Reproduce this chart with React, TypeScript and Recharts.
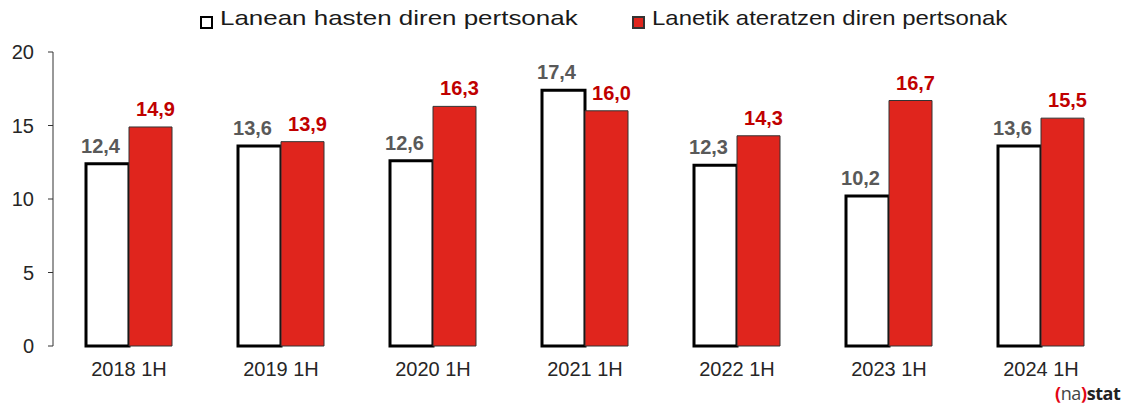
import React from "react";
import { Bar, BarChart, LabelList, XAxis, YAxis } from "recharts";

const periods = ["2018 1H", "2019 1H", "2020 1H", "2021 1H", "2022 1H", "2023 1H", "2024 1H"];
const hasten = [12.4, 13.6, 12.6, 17.4, 12.3, 10.2, 13.6];
const ateratzen = [14.9, 13.9, 16.3, 16.0, 14.3, 16.7, 15.5];
const yTicks = [0, 5, 10, 15, 20];

const data = periods.map((name, i) => ({
  name,
  hasten: hasten[i],
  ateratzen: ateratzen[i],
}));

const RED = "#E0251D";
const FONT = "'Liberation Sans', Arial, sans-serif";

const fmt = (v: any) => Number(v).toFixed(1).replace(".", ",");

function LegendItem({
  x,
  fill,
  border,
  label,
  stretch,
}: {
  x: number;
  fill: string;
  border: string;
  label: string;
  stretch: number;
}) {
  return (
    <div style={{ position: "absolute", left: x, top: 6, height: 28, whiteSpace: "nowrap" }}>
      <span
        style={{
          position: "absolute",
          left: 0,
          top: 10,
          width: 9,
          height: 9,
          background: fill,
          border: `2.5px solid ${border}`,
        }}
      />
      <span
        style={{
          position: "absolute",
          left: 20,
          top: 0,
          fontFamily: FONT,
          fontSize: 21,
          color: "#1a1a1a",
          transform: `scaleX(${stretch})`,
          transformOrigin: "left center",
        }}
      >
        {label}
      </span>
    </div>
  );
}

export default function App() {
  return (
    <div style={{ position: "absolute", left: 0, top: 0, width: 1123, height: 405, background: "#fff" }}>
      <BarChart
        width={1123}
        height={405}
        data={data}
        barGap={0}
        barSize={43}
        margin={{ top: 52, right: 6, left: 13, bottom: 29 }}
      >
        <XAxis
          dataKey="name"
          axisLine={false}
          tickLine={false}
          tickSize={6}
          tickMargin={10}
          height={30}
          interval={0}
          tick={{ fill: "#262626", fontSize: 20, fontFamily: FONT }}
        />
        <YAxis
          domain={[0, 20]}
          ticks={yTicks}
          width={40}
          axisLine={{ stroke: "#333", strokeWidth: 1 }}
          tickLine={{ stroke: "#333" }}
          tickSize={5}
          tickMargin={14}
          tick={{ fill: "#262626", fontSize: 20, fontFamily: FONT }}
        />
        <Bar
          dataKey="hasten"
          fill="#fff"
          stroke="#000"
          strokeWidth={3}
          isAnimationActive={false}
        >
          <LabelList
            dataKey="hasten"
            position="top"
            offset={11}
            formatter={fmt}
            style={{ fill: "#595959", fontSize: 20, fontWeight: 700, fontFamily: FONT }}
            dx={-7}
          />
        </Bar>
        <Bar
          dataKey="ateratzen"
          fill={RED}
          stroke="#333"
          strokeWidth={1}
          isAnimationActive={false}
        >
          <LabelList
            dataKey="ateratzen"
            position="top"
            offset={11}
            formatter={fmt}
            style={{ fill: "#C00000", fontSize: 20, fontWeight: 700, fontFamily: FONT }}
            dx={5}
          />
        </Bar>
      </BarChart>
      <LegendItem x={200} fill="#fff" border="#000" label="Lanean hasten diren pertsonak" stretch={1.235} />
      <LegendItem x={632} fill={RED} border="#333" label="Lanetik ateratzen diren pertsonak" stretch={1.14} />
      <div
        style={{
          position: "absolute",
          left: 1055,
          top: 384,
          lineHeight: 1,
          whiteSpace: "nowrap",
          fontFamily: "'Open Sans', 'DejaVu Sans', sans-serif",
          fontSize: 18,
          letterSpacing: -0.4,
          color: "#222",
        }}
      >
        <span style={{ color: "#E30613", fontWeight: 700 }}>(</span>
        <span style={{ color: "#444" }}>na</span>
        <span style={{ color: "#E30613", fontWeight: 700 }}>)</span>
        <span style={{ fontWeight: 700 }}>stat</span>
      </div>
    </div>
  );
}
